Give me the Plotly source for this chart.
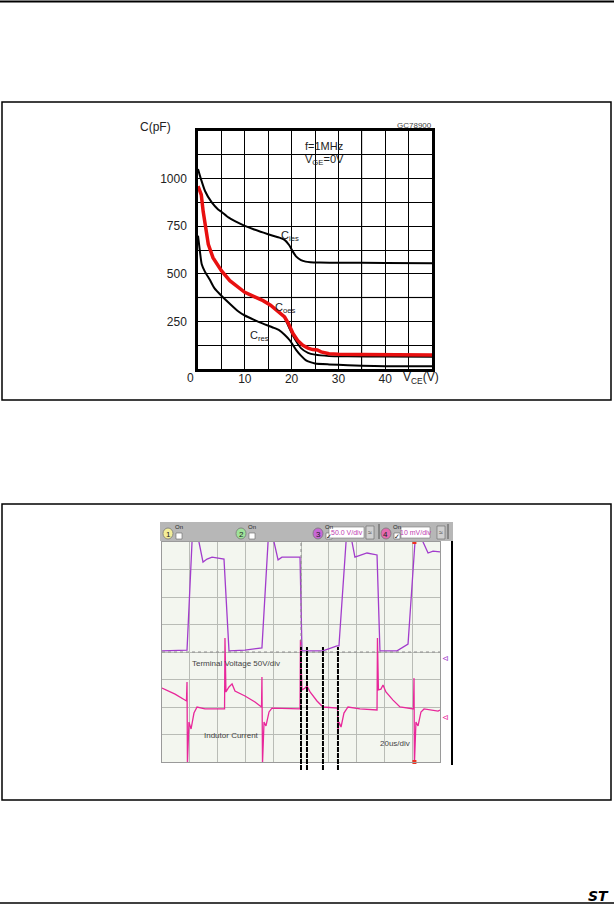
import plotly.graph_objects as go

W, H = 614, 912


def px(x):
    return x / W


def py(y):
    return 1 - y / H


# ---------------- Capacitance chart data (V_CE in V, C in pF) ----------------
cies_v = [0, 0.6, 1.5, 2.9, 4.3, 5, 6.5, 8, 10, 12, 14, 16, 17.4, 18.5, 19.5, 20.3, 21, 22, 23, 24, 26, 30, 40, 50]
cies_c = [1050, 1000, 935, 876, 838, 826, 796, 775, 752, 733, 716, 700, 690, 678, 650, 615, 590, 572, 564, 561, 559, 558, 557, 556]

coes_v = [0, 0.7, 1.1, 1.6, 2.2, 3.2, 5, 6.8, 8.5, 10, 12, 13.9, 15.5, 17.4, 18.5, 19.3, 20.3, 21.3, 22.4, 23.5, 24.5, 25.5, 26.3, 28, 30, 35, 40, 50]
coes_c = [960, 915, 828, 741, 655, 585, 516, 464, 430, 403, 380, 359, 335, 299, 273, 240, 186, 150, 125, 110, 102, 100, 90, 80, 77, 76, 75, 74]

coes_print_v = [18.5, 19.5, 20.5, 22, 23.5, 25, 28, 32, 40, 50]
coes_print_c = [270, 215, 165, 110, 85, 75, 68, 66, 65, 64]

cres_v = [0, 0.4, 0.8, 1.5, 2.5, 3.5, 5, 6.8, 8.5, 10, 12, 13.9, 16, 17.4, 18.5, 19.6, 20.3, 21, 22, 23, 24, 25, 28, 32, 35, 40, 50]
cres_c = [700, 620, 550, 510, 470, 425, 385, 343, 305, 281, 258, 238, 218, 203, 180, 151, 125, 99, 70, 47, 36, 29, 24, 20, 17, 15, 14]

cap_x_ticks = [10, 20, 30, 40]
cap_x_labels = ["10", "20", "30", "40"]
cap_y_ticks = [250, 500, 750, 1000]
cap_y_labels = ["250", "500", "750", "1000"]

# ---------------- Oscilloscope data (time in us, 20 us/div; amplitude in divisions) ----------------
volt_t = [0, 16.5, 18.0, 21.6, 23.7, 26.6, 29.5, 32.4, 36.0, 44.6, 48.2, 59.7, 71.9, 76.3, 78.5, 80.6,
          83.5, 86.3, 99.3, 100.7, 115.8, 125.9, 127.3, 132.4, 134.5, 136.7, 138.8, 147.5, 154.7, 156.8,
          160.4, 169.1, 177.0, 182.0, 184.9, 187.8, 191.4, 195.0, 200]
volt_div = [4.04, 4.07, 4.07, 8.0, 8.4, 8.0, 7.27, 7.38, 7.45, 7.38, 4.04, 4.07, 4.15, 8.0, 8.4, 8.0,
            7.35, 7.45, 7.45, 4.04, 4.04, 4.22, 4.22, 8.0, 8.4, 8.0, 7.45, 7.6, 7.53, 4.04,
            4.04, 4.04, 4.29, 8.0, 8.4, 8.0, 7.6, 7.67, 7.64]

curr_t = [0, 9.4, 17.6, 18.0, 18.3, 19.4, 20.9, 23.0, 25.2, 30.9, 45.0, 45.3, 46.0, 48.2, 50.4, 52.5,
          59.7, 66.9, 71.6, 71.9, 72.3, 73.4, 74.8, 77.0, 79.1, 99.3, 99.6, 100.7, 102.9, 104.3, 106.5,
          111.5, 115.8, 126.3, 126.6, 127.3, 128.8, 130.9, 133.8, 142.4, 154.7, 155.0, 155.7, 157.5,
          159.0, 161.1, 166.2, 171.2, 180.9, 181.3, 181.6, 182.7, 184.2, 186.3, 188.5, 198.6, 200]
curr_div = [2.69, 2.47, 2.22, 2.91, -0.07, 1.45, 1.20, 1.78, 2.0, 1.93, 1.93, 4.51, 2.55, 2.73, 2.84, 2.58,
            2.40, 2.18, 2.0, 3.09, -0.07, 1.45, 1.31, 1.82, 1.96, 1.93, 4.44, 2.62, 2.69, 2.76, 2.55,
            2.22, 2.0, 1.96, 1.09, 1.45, 1.27, 1.78, 2.0, 1.93, 1.89, 4.51, 2.62, 2.65,
            2.8, 2.55, 2.25, 2.0, 1.93, 3.05, -0.07, 1.45, 1.31, 1.82, 1.93, 1.85, 1.89]

marker_t = [100.0, 104.3, 115.8, 126.6]
trigger_t = [181.6]

FONT = "Liberation Sans, Arial, sans-serif"

fig = go.Figure()

# capacitance curves
fig.add_trace(go.Scatter(x=cies_v, y=cies_c, mode="lines", line=dict(color="black", width=2, shape="spline", smoothing=0.6),
                         xaxis="x", yaxis="y", hoverinfo="skip"))
fig.add_trace(go.Scatter(x=cres_v, y=cres_c, mode="lines", line=dict(color="black", width=2, shape="spline", smoothing=0.6),
                         xaxis="x", yaxis="y", hoverinfo="skip"))
fig.add_trace(go.Scatter(x=coes_print_v, y=coes_print_c, mode="lines", line=dict(color="black", width=1.8, shape="spline", smoothing=0.6),
                         xaxis="x", yaxis="y", hoverinfo="skip"))
fig.add_trace(go.Scatter(x=coes_v, y=coes_c, mode="lines", line=dict(color="#e81010", width=3.5),
                         xaxis="x", yaxis="y", hoverinfo="skip"))

# scope traces
fig.add_trace(go.Scatter(x=volt_t, y=volt_div, mode="lines", line=dict(color="#a23ccc", width=1.3),
                         xaxis="x2", yaxis="y2", hoverinfo="skip"))
fig.add_trace(go.Scatter(x=curr_t, y=curr_div, mode="lines", line=dict(color="#e8279a", width=1.3),
                         xaxis="x2", yaxis="y2", hoverinfo="skip"))
fig.add_trace(go.Scatter(x=trigger_t * 2, y=[8, 0], mode="markers", cliponaxis=False,
                         marker=dict(color="#f03020", size=4, symbol="square"),
                         xaxis="x2", yaxis="y2", hoverinfo="skip"))

shapes = []
# page rules
shapes.append(dict(type="line", xref="paper", yref="paper", x0=0, x1=1, y0=py(1.5), y1=py(1.5),
                   line=dict(color="black", width=2)))
shapes.append(dict(type="line", xref="paper", yref="paper", x0=0, x1=1, y0=py(903), y1=py(903),
                   line=dict(color="black", width=1.5)))
# figure frames
for (y0, y1) in [(102, 400), (504, 800)]:
    shapes.append(dict(type="rect", xref="paper", yref="paper", x0=px(2), x1=px(611), y0=py(y1), y1=py(y0),
                       line=dict(color="black", width=1.5)))

# lighter grid lines on the capacitance chart (scan artefacts)
shapes.append(dict(type="line", xref="x", yref="y", x0=35, x1=35, y0=0, y1=1250, layer="below",
                   line=dict(color="#b0b0b0", width=1.5)))
shapes.append(dict(type="line", xref="x", yref="y", x0=0, x1=50, y0=375, y1=375, layer="below",
                   line=dict(color="#b0b0b0", width=1.5)))

# scope screen background
shapes.append(dict(type="rect", xref="paper", yref="paper", x0=px(162), x1=px(440), y0=py(762), y1=py(542),
                   fillcolor="#f3f6ef", line=dict(width=0), layer="below"))
# toolbar
shapes.append(dict(type="rect", xref="paper", yref="paper", x0=px(160), x1=px(453), y0=py(541), y1=py(522),
                   fillcolor="#b7b7b7", line=dict(width=0)))
for sx in [379, 448]:
    shapes.append(dict(type="line", xref="paper", yref="paper", x0=px(sx), x1=px(sx), y0=py(539), y1=py(524),
                       line=dict(color="#555", width=1)))
# channel circles
chan_cols = ["#f3ee9a", "#9fe39a", "#c767d6", "#e46bb0"]
chan_x = [168, 241, 318, 386]
for cx, cc in zip(chan_x, chan_cols):
    shapes.append(dict(type="circle", xref="paper", yref="paper", x0=px(cx - 5), x1=px(cx + 5),
                       y0=py(539), y1=py(528), fillcolor=cc, line=dict(color="#777", width=0.8)))
    shapes.append(dict(type="rect", xref="paper", yref="paper", x0=px(cx + 8), x1=px(cx + 14),
                       y0=py(539), y1=py(533), fillcolor="white", line=dict(color="#666", width=0.6)))
# V/div boxes
for bx0, bx1 in [(329, 364), (401, 430)]:
    shapes.append(dict(type="rect", xref="paper", yref="paper", x0=px(bx0), x1=px(bx1),
                       y0=py(538), y1=py(527), fillcolor="white", line=dict(color="#777", width=0.6)))
for bx0 in [366, 437]:
    shapes.append(dict(type="rect", xref="paper", yref="paper", x0=px(bx0), x1=px(bx0 + 8),
                       y0=py(539), y1=py(526), fillcolor="#d0d0d0", line=dict(color="#666", width=0.6)))
# right border of scope picture
shapes.append(dict(type="line", xref="paper", yref="paper", x0=px(452), x1=px(452), y0=py(765), y1=py(541),
                   line=dict(color="black", width=2)))
# scope centre lines
shapes.append(dict(type="line", xref="x2", yref="y2", x0=0, x1=200, y0=4, y1=4,
                   line=dict(color="#8c8c8c", width=1, dash="dot")))
shapes.append(dict(type="line", xref="x2", yref="y2", x0=100, x1=100, y0=0, y1=8,
                   line=dict(color="#8c8c8c", width=1, dash="dot")))
# black dashed cursor lines
for t in marker_t:
    shapes.append(dict(type="line", xref="x2", yref="paper", x0=t, x1=t, y0=py(770), y1=py(647),
                       line=dict(color="black", width=2, dash="5px,1px")))

ann = []


def text(x, y, s, size=11, color="#222", xanchor="center", family=FONT, **kw):
    ann.append(dict(xref="paper", yref="paper", x=px(x), y=py(y), text=s, showarrow=False,
                    xanchor=xanchor, yanchor="middle", font=dict(size=size, color=color, family=family), **kw))


# capacitance chart texts
text(155, 127, "C(pF)", 12)
text(190, 378, "0", 12)
text(421, 378, "V<sub>CE</sub>(V)", 12)
text(303, 146, "f=1MHz", 11, xanchor="left")
text(303, 160, "V<sub>GE</sub>=0V", 11, xanchor="left")
text(414, 125, "GC78900", 8, color="#444")
text(290, 236, "C<sub>ies</sub>", 11)
text(285, 308, "C<sub>oes</sub>", 11)
text(259, 336, "C<sub>res</sub>", 11)

# scope texts
for cx, n in zip(chan_x, ["1", "2", "3", "4"]):
    text(cx, 534, n, 8, color="#222")
    text(cx + 11, 527, "On", 6, color="#222")
for cx in chan_x[2:]:
    text(cx + 11, 536, "✓", 7, color="#111")
text(346.5, 532.5, "50.0 V/div", 7, color="#c03cb0")
text(415.5, 532.5, "10 mV/div", 7, color="#c03cb0")
text(370, 532.5, "≈", 7, color="#333")
text(441, 532.5, "≈", 7, color="#333")
text(236, 663, "Terminal Voltage 50V/div", 8, color="#444")
text(231, 735, "Indutor Current", 8, color="#444")
text(395, 743, "20us/div", 8, color="#444")
text(445, 658, "⊲", 8, color="#a23ccc")
text(445, 717, "⊲", 8, color="#e8279a")

# ST logo
text(598, 896, "<b><i>ST</i></b>", 14, color="black", family="DejaVu Sans, sans-serif")

fig.update_layout(
    width=W, height=H, margin=dict(l=0, r=0, t=0, b=0), autosize=False,
    paper_bgcolor="white", plot_bgcolor="rgba(0,0,0,0)", showlegend=False,
    shapes=shapes, annotations=ann,
    xaxis=dict(domain=[px(198), px(432)], range=[0, 50], anchor="y",
               tickmode="array", tickvals=cap_x_ticks, ticktext=cap_x_labels,
               showgrid=True, gridcolor="black", gridwidth=1,
               minor=dict(tickmode="linear", tick0=0, dtick=5, showgrid=True, gridcolor="black", gridwidth=1),
               showline=True, mirror=True, linecolor="black", linewidth=2.5, zeroline=False,
               ticks="", tickfont=dict(size=12, color="#222", family=FONT), ticklabelstandoff=-3),
    yaxis=dict(domain=[py(369), py(131)], range=[0, 1250], anchor="x",
               tickmode="array", tickvals=cap_y_ticks, ticktext=cap_y_labels,
               showgrid=True, gridcolor="black", gridwidth=1,
               minor=dict(tickmode="linear", tick0=0, dtick=125, showgrid=True, gridcolor="black", gridwidth=1),
               showline=True, mirror=True, linecolor="black", linewidth=2.5, zeroline=False,
               ticks="", tickfont=dict(size=12, color="#222", family=FONT), ticklabelstandoff=6),
    xaxis2=dict(domain=[px(162), px(440)], range=[0, 200], anchor="y2", dtick=20,
                showgrid=True, gridcolor="#b9bcb6", gridwidth=1, showticklabels=False, ticks="",
                showline=True, mirror=True, linecolor="#9a9a9a", linewidth=1, zeroline=False),
    yaxis2=dict(domain=[py(762), py(542)], range=[0, 8], anchor="x2", dtick=1,
                showgrid=True, gridcolor="#b9bcb6", gridwidth=1, showticklabels=False, ticks="",
                showline=True, mirror=True, linecolor="#9a9a9a", linewidth=1, zeroline=False),
)

fig.write_html("out.html", config={"displayModeBar": False},
               post_script="document.body.style.margin='0';document.body.style.overflow='hidden';")
